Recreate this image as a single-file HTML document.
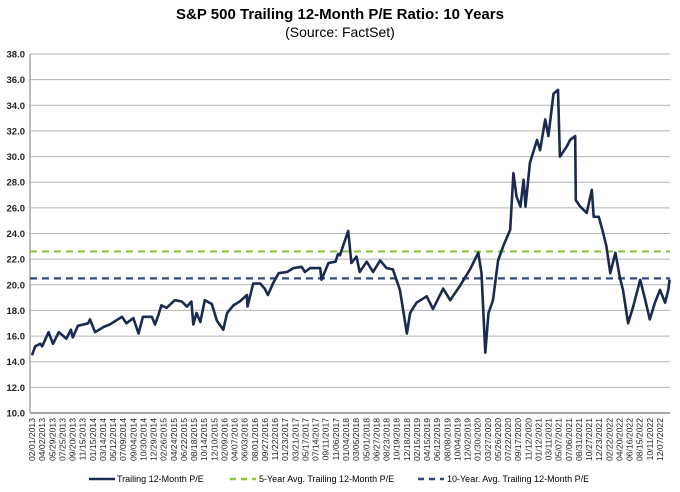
<!DOCTYPE html>
<html><head><meta charset="utf-8"><style>
body{margin:0;background:#fff;}
svg{display:block;font-family:"Liberation Sans",Arial,sans-serif;}
</style></head><body>
<svg id="chart" width="680" height="492">
<text x="340" y="19" text-anchor="middle" font-size="15" font-weight="bold" fill="#000">S&amp;P 500 Trailing 12-Month P/E Ratio: 10 Years</text>
<text x="340" y="37" text-anchor="middle" font-size="14" fill="#000">(Source: FactSet)</text>
<g id="grid"></g><g id="yticks"></g><g id="xticks"></g><g id="series"></g>
<g>
<line x1="89" y1="479" x2="115" y2="479" stroke="#1a2a50" stroke-width="2.5"/>
<text x="117" y="482" font-size="9">Trailing 12-Month P/E</text>
<line x1="230" y1="479" x2="256" y2="479" stroke="#8cc63f" stroke-width="2.5" stroke-dasharray="6,5"/>
<text x="259" y="482" font-size="9">5-Year Avg. Trailing 12-Month P/E</text>
<line x1="418" y1="479" x2="444" y2="479" stroke="#2e4a7d" stroke-width="2.5" stroke-dasharray="6,5"/>
<text x="447" y="482" font-size="9">10-Year. Avg. Trailing 12-Month P/E</text>
</g>
</svg>
<script>
const yTicks=[10,12,14,16,18,20,22,24,26,28,30,32,34,36,38];
const xLabels=["02/01/2013","04/02/2013","05/29/2013","07/25/2013","09/20/2013","11/15/2013","01/15/2014","03/14/2014","05/12/2014","07/09/2014","09/04/2014","10/30/2014","12/29/2014","02/26/2015","04/24/2015","06/22/2015","08/18/2015","10/14/2015","12/10/2015","02/09/2016","04/07/2016","06/03/2016","08/01/2016","09/27/2016","11/22/2016","01/23/2017","03/21/2017","05/17/2017","07/14/2017","09/11/2017","11/06/2017","01/04/2018","03/05/2018","05/01/2018","06/27/2018","08/23/2018","10/19/2018","12/18/2018","02/15/2019","04/15/2019","06/12/2019","08/08/2019","10/04/2019","12/02/2019","01/30/2020","03/27/2020","05/26/2020","07/22/2020","09/17/2020","11/12/2020","01/12/2021","03/11/2021","05/07/2021","07/06/2021","08/31/2021","10/27/2021","12/23/2021","02/22/2022","04/20/2022","06/16/2022","08/15/2022","10/11/2022","12/07/2022"];
const times=[0,0.05,0.13,0.16,0.26,0.33,0.42,0.54,0.61,0.64,0.72,0.88,0.91,0.99,1.12,1.22,1.41,1.48,1.59,1.67,1.74,1.88,1.93,1.98,2.03,2.11,2.24,2.35,2.43,2.5,2.53,2.58,2.64,2.71,2.82,2.9,3.0,3.06,3.16,3.26,3.37,3.38,3.47,3.58,3.65,3.7,3.79,3.87,4.0,4.1,4.23,4.28,4.36,4.52,4.54,4.65,4.76,4.8,4.83,4.96,5.01,5.09,5.14,5.25,5.35,5.46,5.56,5.66,5.77,5.88,5.93,6.03,6.19,6.29,6.45,6.56,6.71,6.87,7.0,7.05,7.11,7.16,7.23,7.31,7.39,7.5,7.55,7.6,7.66,7.71,7.74,7.81,7.92,7.97,8.05,8.1,8.18,8.25,8.28,8.39,8.44,8.52,8.53,8.6,8.7,8.78,8.81,8.89,8.96,9.01,9.07,9.15,9.22,9.27,9.35,9.43,9.54,9.62,9.69,9.77,9.85,9.93,9.98,10.0];
const peValues=[14.5,15.2,15.4,15.2,16.3,15.4,16.3,15.8,16.5,15.9,16.8,17.0,17.3,16.3,16.7,16.9,17.5,17.0,17.4,16.2,17.5,17.5,16.9,17.6,18.4,18.2,18.8,18.7,18.3,18.7,16.9,17.8,17.1,18.8,18.5,17.2,16.5,17.8,18.4,18.7,19.2,18.3,20.1,20.1,19.7,19.2,20.2,20.9,21.0,21.3,21.4,21.0,21.3,21.3,20.4,21.7,21.8,22.4,22.3,24.2,21.7,22.2,21.0,21.8,21.0,21.9,21.3,21.2,19.6,16.2,17.8,18.6,19.1,18.1,19.7,18.8,19.9,21.2,22.5,20.9,14.7,17.8,18.8,21.9,23.0,24.3,28.7,26.9,26.1,28.2,26.1,29.5,31.3,30.5,32.9,31.6,34.9,35.2,30.0,30.8,31.3,31.6,26.6,26.1,25.6,27.4,25.3,25.3,24.0,23.0,20.9,22.5,20.6,19.6,17.0,18.3,20.4,18.8,17.3,18.6,19.6,18.6,19.6,20.4];
const avg5=[22.6];
const avg10=[20.5];
const NS="http://www.w3.org/2000/svg";
const X0=30,X1=670,Y0=413,Y1=54;
function yS(v){return Y0-(v-10)/(38-10)*(Y0-Y1);}
function tS(t){return 32+t*(628/9.85);}
function lS(i){return 32+i*(628/(xLabels.length-1));}
function mk(tag,attrs,parent){const e=document.createElementNS(NS,tag);for(const k in attrs)e.setAttribute(k,attrs[k]);parent.appendChild(e);return e;}
const grid=document.getElementById('grid'),yt=document.getElementById('yticks'),xt=document.getElementById('xticks'),ser=document.getElementById('series');
yTicks.forEach(v=>{
  const l=mk('line',{x1:X0,x2:X1,y1:yS(v),y2:yS(v),stroke:'#b3b3b3','stroke-width':1},grid);
  
  
  const t=mk('text',{x:25,y:yS(v)+3.5,'text-anchor':'end','font-size':9.5,'font-weight':'bold',fill:'#222'},yt);
  t.textContent=v.toFixed(1);
  
  
});
const ax=mk('line',{x1:X0,x2:X0,y1:Y1,y2:Y0,stroke:'#a6a6a6','stroke-width':1.5},grid);


const bx=mk('line',{x1:X0,x2:X1,y1:Y0,y2:Y0,stroke:'#a6a6a6','stroke-width':2},grid);


xLabels.forEach((s,i)=>{
  const x=lS(i);
  const t=mk('text',{x:0,y:0,'text-anchor':'end','font-size':8.6,fill:'#222',transform:`translate(${x+3},418) rotate(-90)`},xt);
  t.textContent=s;
  
  
});
const g5=mk('line',{x1:X0,x2:X1,y1:yS(avg5[0]),y2:yS(avg5[0]),stroke:'#8cc63f','stroke-width':2.2,'stroke-dasharray':'7,5'},ser);


const g10=mk('line',{x1:X0,x2:X1,y1:yS(avg10[0]),y2:yS(avg10[0]),stroke:'#2e4a7d','stroke-width':2.2,'stroke-dasharray':'7,5'},ser);


const d=peValues.map((v,i)=>(i?'L':'M')+tS(times[i]).toFixed(1)+','+yS(v).toFixed(1)).join(' ');
const p=mk('path',{d:d,fill:'none',stroke:'#1a2a50','stroke-width':2.6,'stroke-linejoin':'round'},ser);


</script>
</body></html>
